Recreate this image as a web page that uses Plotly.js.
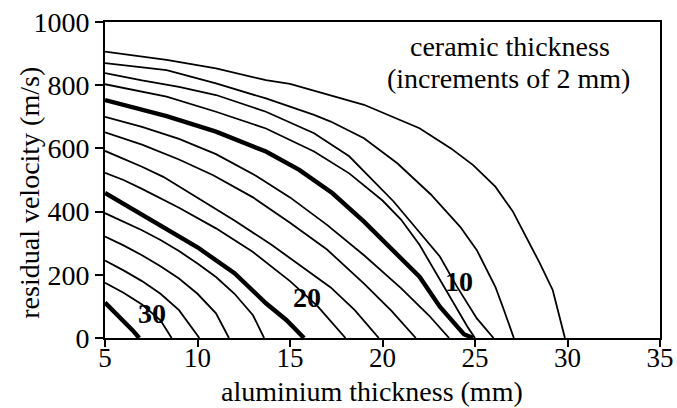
<!DOCTYPE html>
<html>
<head>
<meta charset="utf-8">
<script src="https://cdn.plot.ly/plotly-3.0.1.min.js"></script>
<style>html,body{margin:0;padding:0;background:#fff;}#chart{width:677px;height:408px;}</style>
</head>
<body>
<div id="chart"></div>
<script>
// ceramic thickness (mm) for each curve
const ceramic = [2, 4, 6, 8, 10, 12, 14, 16, 18, 20, 22, 24, 26, 28, 30];
const boldCeramic = [10, 20, 30];

// aluminium thickness (mm) / residual velocity (m/s) for each ceramic thickness
const x02 = [5, 8.33, 11, 13.7, 15, 17.2, 19, 22, 23.7, 24.9, 26.1, 27.05, 27.9, 28.5, 29.2, 29.86];
const y02 = [906, 880, 853, 816, 804, 769, 738, 664, 600, 547, 479, 400, 305, 237, 152, 0];
const x04 = [5, 8.33, 11, 13.7, 16.3, 17.2, 19, 20.8, 22.6, 24.2, 25.1, 26.1, 26.5, 27.1];
const y04 = [870, 848, 806, 758, 706, 685, 632, 553, 455, 352, 278, 162, 99, 0];
const x06 = [5, 7, 9, 11, 13.7, 16.3, 18.2, 19.4, 20.6, 21.85, 23.1, 24, 25.1, 26];
const y06 = [838, 815, 795, 769, 716, 648, 575, 505, 432, 345, 258, 165, 62, 0];
const x08 = [5, 8.33, 11, 13.7, 16.3, 18.2, 20, 21, 22, 23, 24, 24.6, 25];
const y08 = [803, 764, 716, 663, 590, 521, 435, 375, 295, 195, 92, 35, 0];
const x10 = [5, 8.33, 11, 13.7, 15.5, 17.3, 19, 20.2, 22, 23.1, 24, 24.4, 24.9];
const y10 = [753, 702, 653, 590, 532, 458, 368, 300, 194, 99, 35, 12, 0];
const x12 = [5, 7, 9, 11, 13.2, 15, 17, 19, 21, 22.5, 23.6];
const y12 = [700, 668, 630, 582, 512, 445, 358, 262, 158, 72, 0];
const x14 = [5, 7, 9, 10.85, 13, 15, 17, 19, 20.5, 21.8];
const y14 = [651, 612, 565, 515, 445, 365, 280, 172, 85, 0];
const x16 = [5, 7, 8.15, 10, 12, 14, 16, 17.2, 18.5, 19.8];
const y16 = [592, 542, 510, 445, 372, 295, 210, 160, 88, 0];
const x18 = [5, 6, 7, 9, 11, 13, 15, 16.5, 18];
const y18 = [523, 500, 472, 412, 347, 272, 180, 100, 0];
const x20 = [5, 7, 9, 10, 12, 13.7, 14.8, 15.76];
const y20 = [459, 389, 321, 287, 205, 110, 57, 0];
const x22 = [5, 6, 7, 8, 9, 10, 11, 12, 13, 13.6];
const y22 = [395, 369, 341, 310, 275, 236, 193, 140, 72, 0];
const x24 = [5, 6, 7, 8, 9, 10, 11, 11.7];
const y24 = [321, 293, 262, 227, 188, 140, 78, 0];
const x26 = [5, 6, 7, 8, 9, 10.1];
const y26 = [245, 214, 180, 140, 88, 0];
const x28 = [5, 6, 7, 8, 8.6];
const y28 = [175, 143, 106, 56, 0];
const x30 = [5, 5.5, 6, 6.5, 6.85];
const y30 = [112, 84, 55, 24, 0];

const xSeries = [x02, x04, x06, x08, x10, x12, x14, x16, x18, x20, x22, x24, x26, x28, x30];
const ySeries = [y02, y04, y06, y08, y10, y12, y14, y16, y18, y20, y22, y24, y26, y28, y30];

// curve labels (ceramic thickness) and their positions in data units
const labelText = ['30', '20', '10'];
const labelX = [7.56, 15.9, 24.15];
const labelY = [78, 129, 178];

const xTicks = [5, 10, 15, 20, 25, 30, 35];
const yTicks = [0, 200, 400, 600, 800, 1000];

const FONT = 'Liberation Serif, serif';

const traces = ceramic.map((c, i) => ({
  x: xSeries[i], y: ySeries[i], type: 'scatter', mode: 'lines',
  name: c + ' mm', showlegend: false, hoverinfo: 'skip',
  line: {color: '#000', width: boldCeramic.includes(c) ? 4.4 : 1.8}
}));

const annotations = labelText.map((t, i) => ({
  x: labelX[i], y: labelY[i], xref: 'x', yref: 'y', text: '<b>' + t + '</b>',
  xanchor: 'center', yanchor: 'middle',
  showarrow: false, font: {family: FONT, size: 28, color: '#000'}
}));
annotations.push(
  {x: 0.73, y: 0.922, xref: 'paper', yref: 'paper', text: 'ceramic thickness', showarrow: false,
   xanchor: 'center', yanchor: 'middle', font: {family: FONT, size: 28, color: '#000'}},
  {x: 0.727, y: 0.822, xref: 'paper', yref: 'paper', text: '(increments of 2 mm)', showarrow: false,
   xanchor: 'center', yanchor: 'middle', font: {family: FONT, size: 28, color: '#000'}},
  {x: 0.481, y: -0.168, xref: 'paper', yref: 'paper', text: 'aluminium thickness (mm)', showarrow: false,
   xanchor: 'center', yanchor: 'middle', font: {family: FONT, size: 28, color: '#000'}},
  {x: -0.135, y: 0.46, xref: 'paper', yref: 'paper', text: 'residual velocity (m/s)', showarrow: false,
   xanchor: 'center', yanchor: 'middle', textangle: -90, font: {family: FONT, size: 28, color: '#000'}}
);

const layout = {
  width: 677, height: 408,
  margin: {l: 105, r: 17, t: 22, b: 70},
  paper_bgcolor: '#fff', plot_bgcolor: '#fff',
  font: {family: FONT, size: 28, color: '#000'},
  showlegend: false,
  xaxis: {
    range: [5, 35], tickvals: xTicks, ticktext: xTicks.map(String),
    showgrid: false, zeroline: false, showline: true, linecolor: '#000', linewidth: 2,
    mirror: true, ticks: 'outside', ticklen: 7, tickwidth: 2, tickcolor: '#000',
    ticklabelstandoff: -12,
    tickfont: {family: FONT, size: 27, color: '#000'}
  },
  yaxis: {
    range: [0, 1000], tickvals: yTicks, ticktext: yTicks.map(String),
    showgrid: false, zeroline: false, showline: true, linecolor: '#000', linewidth: 2,
    mirror: true, ticks: 'outside', ticklen: 8, tickwidth: 2, tickcolor: '#000',
    tickfont: {family: FONT, size: 28, color: '#000'}
  },
  annotations: annotations
};

Plotly.newPlot('chart', traces, layout, {staticPlot: true, displayModeBar: false});
</script>
</body>
</html>
